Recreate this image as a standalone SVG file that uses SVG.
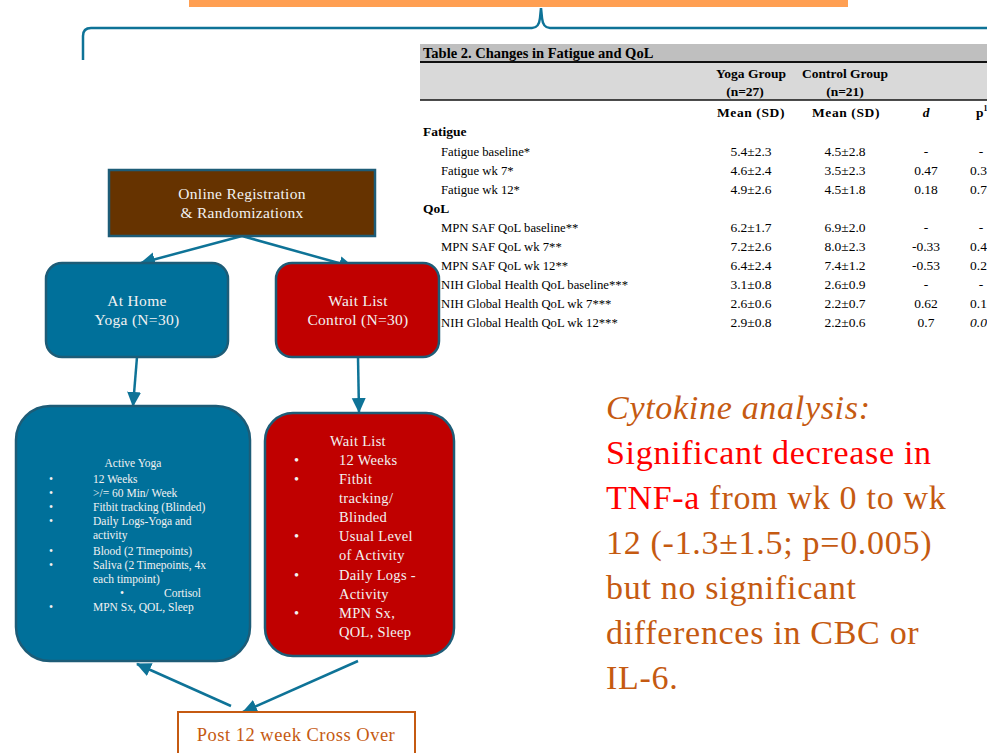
<svg xmlns="http://www.w3.org/2000/svg" width="987" height="753" viewBox="0 0 987 753">
  <style>
    .serif { font-family: "Liberation Serif", "Times New Roman", serif; }
    .tbl { font-family: "Liberation Serif", "Times New Roman", serif; font-size: 12.7px; fill: #000; }
    .tb { font-weight: bold; font-size: 13.5px; }
    .num { font-size: 13.5px; }
    .c1 { text-anchor: middle; }
    .light { fill: #F2F2F2; }
    .conn { stroke: #0E7397; stroke-width: 2.5; fill: none; }
    .teal { fill: #00709A; stroke: #1D5C77; stroke-width: 2.5; }
    .red { fill: #C00000; stroke: #1D5C77; stroke-width: 2.5; }
    .big { font-family: "Liberation Serif", "Times New Roman", serif; font-size: 34px; letter-spacing: 0.7px; fill: #C55A11; }
  </style>
  <defs>
    <marker id="arrow" markerUnits="userSpaceOnUse" markerWidth="16" markerHeight="16" viewBox="0 0 16 16" refX="14" refY="8" orient="auto">
      <path d="M0,1 L15,8 L0,15 Z" fill="#0E7397"/>
    </marker>
  </defs>

  <rect width="987" height="753" fill="#FFFFFF"/>

  <!-- title bar and bracket -->
  <rect x="189" y="0" width="659" height="7" fill="#FF9F52"/>
  <path class="conn" d="M83,60 L83,36 Q83,28 91,28 L532,28 Q539,28 540,18 L541,8 L542,18 Q543,28 550,28 L987,28"/>

  <!-- table -->
  <g id="table">
    <rect x="420" y="44" width="567" height="18" fill="#BFBFBF"/>
    <rect x="420" y="62" width="567" height="38" fill="#D9D9D9"/>
    <line x1="420" y1="62" x2="987" y2="62" stroke="#111" stroke-width="2"/>
    <line x1="420" y1="100" x2="987" y2="100" stroke="#111" stroke-width="1.5"/>
    <text class="tbl tb" x="423" y="58" font-size="14" style="font-size:14.5px">Table 2. Changes in Fatigue and QoL</text>
    <text class="tbl tb c1" x="751" y="78">Yoga Group</text>
    <text class="tbl tb c1" x="845" y="78">Control Group</text>
    <text class="tbl tb c1" x="745" y="96">(n=27)</text>
    <text class="tbl tb c1" x="845" y="96">(n=21)</text>
    <text class="tbl tb c1" x="751" y="117" letter-spacing="0.6">Mean (SD)</text>
    <text class="tbl tb c1" x="846" y="117" letter-spacing="0.6">Mean (SD)</text>
    <text class="tbl tb c1" x="926" y="117" font-style="italic">d</text>
    <text class="tbl tb" x="976" y="117">p<tspan font-size="8" dy="-6">1</tspan></text>

    <text class="tbl tb" x="423" y="136">Fatigue</text>
    <text class="tbl" x="441" y="155.5">Fatigue baseline*</text>
    <text class="tbl" x="441" y="174.5">Fatigue wk 7*</text>
    <text class="tbl" x="441" y="193.5">Fatigue wk 12*</text>
    <text class="tbl tb" x="423" y="212.5">QoL</text>
    <text class="tbl" x="441" y="231.5">MPN SAF QoL baseline**</text>
    <text class="tbl" x="441" y="250.5">MPN SAF QoL wk 7**</text>
    <text class="tbl" x="441" y="269.5">MPN SAF QoL wk 12**</text>
    <text class="tbl" x="441" y="288.5">NIH Global Health QoL baseline***</text>
    <text class="tbl" x="441" y="307.5">NIH Global Health QoL wk 7***</text>
    <text class="tbl" x="441" y="326.5">NIH Global Health QoL wk 12***</text>

    <g class="tbl num c1">
      <text x="751" y="155.5">5.4±2.3</text>
      <text x="751" y="174.5">4.6±2.4</text>
      <text x="751" y="193.5">4.9±2.6</text>
      <text x="751" y="231.5">6.2±1.7</text>
      <text x="751" y="250.5">7.2±2.6</text>
      <text x="751" y="269.5">6.4±2.4</text>
      <text x="751" y="288.5">3.1±0.8</text>
      <text x="751" y="307.5">2.6±0.6</text>
      <text x="751" y="326.5">2.9±0.8</text>

      <text x="845" y="155.5">4.5±2.8</text>
      <text x="845" y="174.5">3.5±2.3</text>
      <text x="845" y="193.5">4.5±1.8</text>
      <text x="845" y="231.5">6.9±2.0</text>
      <text x="845" y="250.5">8.0±2.3</text>
      <text x="845" y="269.5">7.4±1.2</text>
      <text x="845" y="288.5">2.6±0.9</text>
      <text x="845" y="307.5">2.2±0.7</text>
      <text x="845" y="326.5">2.2±0.6</text>

      <text x="926" y="155.5">-</text>
      <text x="926" y="174.5">0.47</text>
      <text x="926" y="193.5">0.18</text>
      <text x="926" y="231.5">-</text>
      <text x="926" y="250.5">-0.33</text>
      <text x="926" y="269.5">-0.53</text>
      <text x="926" y="288.5">-</text>
      <text x="926" y="307.5">0.62</text>
      <text x="926" y="326.5">0.7</text>

      <text x="981" y="155.5">-</text>
      <text x="981" y="231.5">-</text>
      <text x="981" y="288.5">-</text>
    </g>
    <g class="tbl num">
      <text x="970" y="174.5">0.3</text>
      <text x="970" y="193.5">0.7</text>
      <text x="970" y="250.5">0.4</text>
      <text x="970" y="269.5">0.2</text>
      <text x="970" y="307.5">0.1</text>
      <text x="970" y="326.5" font-style="italic">0.0</text>
    </g>
  </g>

  <!-- connectors -->
  <g id="connectors">
    <line class="conn" x1="242" y1="236" x2="141" y2="263" marker-end="url(#arrow)"/>
    <line class="conn" x1="242" y1="236" x2="353" y2="267" marker-end="url(#arrow)"/>
    <line class="conn" x1="137" y1="357" x2="133" y2="406" marker-end="url(#arrow)"/>
    <line class="conn" x1="358" y1="357" x2="359" y2="412" marker-end="url(#arrow)"/>
    <line class="conn" x1="231" y1="706" x2="137" y2="664" marker-end="url(#arrow)"/>
    <line class="conn" x1="358" y1="661" x2="243" y2="712" marker-end="url(#arrow)"/>
  </g>

  <!-- nodes -->
  <g id="registration">
    <rect x="109" y="170" width="266" height="66" fill="#663300" stroke="#1D5C77" stroke-width="2.5"/>
    <g class="serif light" font-size="15.5" letter-spacing="0.3" text-anchor="middle">
      <text x="242" y="199">Online Registration</text>
      <text x="242" y="218">&amp; Randomizationx</text>
    </g>
  </g>

  <g id="yoga-arm">
    <rect class="teal" x="46" y="263" width="182" height="94" rx="16"/>
    <g class="serif light" font-size="15.5" letter-spacing="0.3" text-anchor="middle">
      <text x="137" y="306">At Home</text>
      <text x="137" y="325">Yoga (N=30)</text>
    </g>
  </g>

  <g id="control-arm">
    <rect class="red" x="276" y="263" width="163" height="94" rx="16"/>
    <g class="serif light" font-size="15.5" letter-spacing="0.3" text-anchor="middle">
      <text x="358" y="306">Wait List</text>
      <text x="358" y="325">Control (N=30)</text>
    </g>
  </g>

  <g id="yoga-protocol">
    <rect class="teal" x="16" y="406" width="234" height="255" rx="34"/>
    <g class="serif light" font-size="11.5">
      <text x="133" y="467" text-anchor="middle">Active Yoga</text>
      <text x="49" y="482.5">•</text><text x="93" y="482.5">12 Weeks</text>
      <text x="49" y="496.5">•</text><text x="93" y="496.5">&gt;/= 60 Min/ Week</text>
      <text x="49" y="511">•</text><text x="93" y="511">Fitbit tracking (Blinded)</text>
      <text x="49" y="525">•</text><text x="93" y="525">Daily Logs-Yoga and</text>
      <text x="93" y="539">activity</text>
      <text x="49" y="554.5">•</text><text x="93" y="554.5">Blood (2 Timepoints)</text>
      <text x="49" y="568.5">•</text><text x="93" y="568.5">Saliva (2 Timepoints, 4x</text>
      <text x="93" y="583">each timpoint)</text>
      <text x="120" y="597">•</text><text x="164" y="597">Cortisol</text>
      <text x="49" y="611">•</text><text x="93" y="611">MPN Sx, QOL, Sleep</text>
    </g>
  </g>

  <g id="control-protocol">
    <rect class="red" x="265" y="413" width="189" height="243" rx="28"/>
    <g class="serif light" font-size="14.5" letter-spacing="0.3">
      <text x="358" y="446" text-anchor="middle">Wait List</text>
      <text x="294" y="465">•</text><text x="339" y="465">12 Weeks</text>
      <text x="294" y="484">•</text><text x="339" y="484">Fitbit</text>
      <text x="339" y="503">tracking/</text>
      <text x="339" y="522">Blinded</text>
      <text x="294" y="541">•</text><text x="339" y="541">Usual Level</text>
      <text x="339" y="560">of Activity</text>
      <text x="294" y="580">•</text><text x="339" y="580">Daily Logs -</text>
      <text x="339" y="599">Activity</text>
      <text x="294" y="618">•</text><text x="339" y="618">MPN Sx,</text>
      <text x="339" y="637">QOL, Sleep</text>
    </g>
  </g>

  <g id="crossover">
    <rect x="178" y="712" width="237" height="50" fill="#FFFFFF" stroke="#C55A11" stroke-width="2"/>
    <text class="serif" font-size="18.5" letter-spacing="0.5" fill="#C55A11" text-anchor="middle" x="296" y="741">Post 12 week Cross Over</text>
  </g>

  <!-- cytokine summary -->
  <g id="cytokine-note" class="big">
    <text x="606" y="419" font-style="italic">Cytokine analysis:</text>
    <text x="606" y="464" fill="#FF0000">Significant decrease in</text>
    <text x="606" y="509"><tspan fill="#FF0000">TNF-a</tspan> from wk 0 to wk</text>
    <text x="606" y="554">12 (-1.3±1.5; p=0.005)</text>
    <text x="606" y="599">but no significant</text>
    <text x="606" y="644">differences in CBC or</text>
    <text x="606" y="689">IL-6.</text>
  </g>
</svg>
